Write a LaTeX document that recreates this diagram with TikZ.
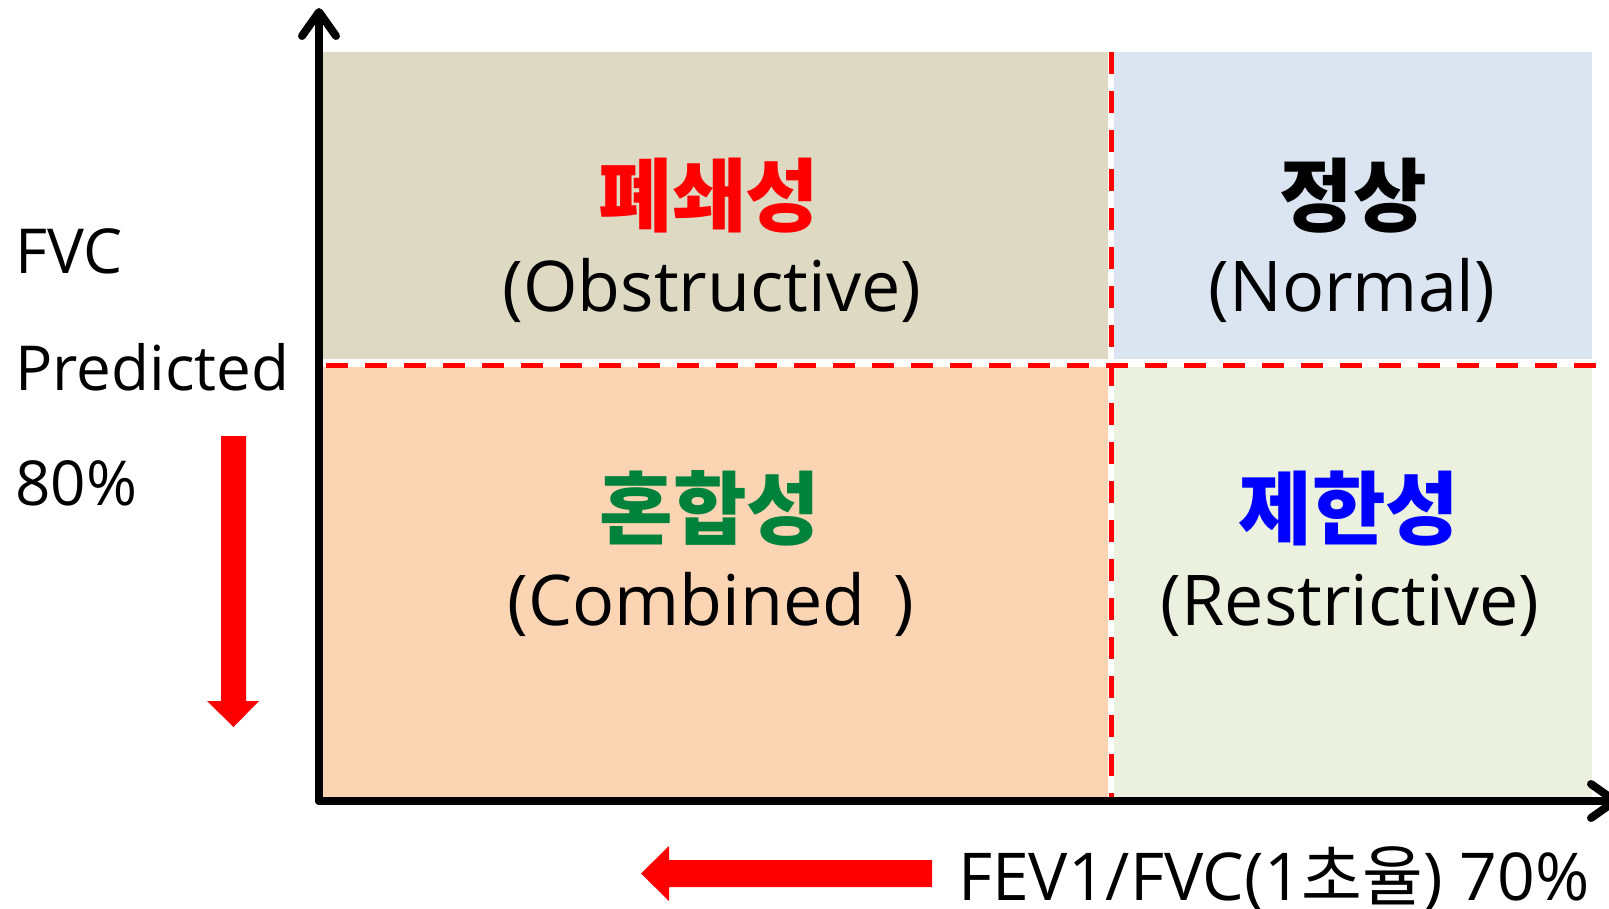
\documentclass[tikz,border=0pt]{standalone}
\usepackage{fontspec}
\setmainfont{Open Sans}
\newfontfamily\kr{Noto Sans CJK KR}
\usetikzlibrary{arrows.meta}

\definecolor{obsbg}{HTML}{DDD9C3}
\definecolor{normbg}{HTML}{DBE5F1}
\definecolor{combbg}{HTML}{FBD4B4}
\definecolor{restbg}{HTML}{EBF1DE}
\definecolor{combgreen}{RGB}{0,130,60}

\tikzset{
  axis/.style={line width=8pt, line cap=round, -{Straight Barb[length=24pt,width=34pt,round]}},
  divider/.style={red, line width=5pt, dash pattern=on 22pt off 17pt},
  kor/.style={inner sep=0pt, anchor=base, font=\kr\bfseries\fontsize{80}{96}\selectfont},
  eng/.style={inner sep=0pt, anchor=base, font=\fontsize{70}{84}\selectfont},
  side/.style={inner sep=0pt, anchor=base west, font=\fontsize{62}{74}\selectfont}
}

\begin{document}
\begin{tikzpicture}[x=1pt, y=-1pt]
    \useasboundingbox (0,0) rectangle (1609,909);

    \coordinate (O) at (319,801);
    \coordinate (Y) at (319,8);
    \coordinate (X) at (1619,801);

    \fill[obsbg] (323,52) rectangle (1108,359);
    \fill[normbg] (1114,52) rectangle (1592,359);
    \fill[combbg] (323,367) rectangle (1108,797);
    \fill[restbg] (1114,367) rectangle (1592,797);

    \draw[divider] (326,365) -- (1600,365);
    \draw[divider] (1111,52) -- (1111,797);

    \draw[axis] (O) -- (Y);
    \draw[axis] (O) -- (X);

    \node[kor, red] (obsK) at (709,226) {폐쇄성};
    \node[eng] (obsE) at (712,312) {(Obstructive)};
    \node[kor] (normK) at (1353,226) {정상};
    \node[eng] (normE) at (1352,312) {(Normal)};
    \node[kor, combgreen] (combK) at (710,538) {혼합성};
    \node[eng] (combE) at (711,625) {(Combined\hspace{10pt} )};
    \node[kor, blue] (restK) at (1349,538) {제한성};
    \node[eng] (restE) at (1350,625) {(Restrictive)};

    \node[side] (fvc) at (15,274) {FVC};
    \node[side] (pred) at (15,390) {Predicted};
    \node[side] (pct) at (15,505) {80\%};
    \node[side, font=\fontsize{66}{78}\selectfont] (ratio) at (958,900) {FEV1/FVC(1{\kr 초율}) 70\%};

    % block arrows
    \fill[red] (221,436) -- (246,436) -- (246,701) -- (259,701) -- (233.5,727)
        -- (207,701) -- (221,701) -- cycle;
    \fill[red] (932,860) -- (932,887) -- (669,887) -- (669,901) -- (641,873.5)
        -- (669,846) -- (669,860) -- cycle;
\end{tikzpicture}
\end{document}
